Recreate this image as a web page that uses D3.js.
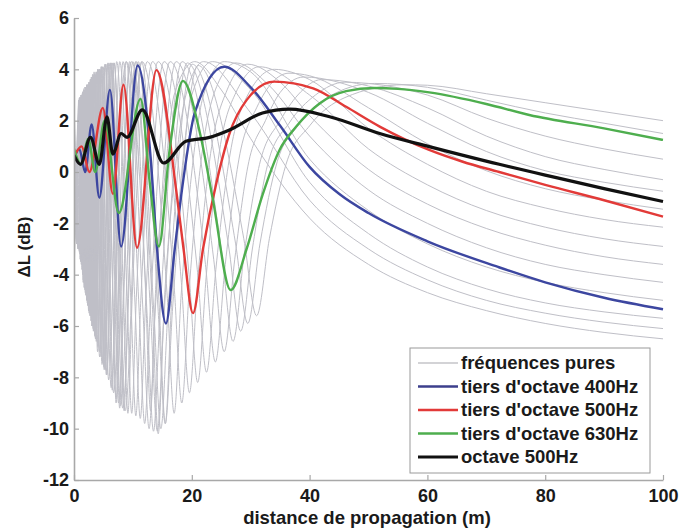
<!DOCTYPE html>
<html><head><meta charset="utf-8">
<script src="https://cdn.jsdelivr.net/npm/d3@7"></script>
<style>body{margin:0;background:#fff} svg{display:block}</style>
</head><body>
<svg id="chart" width="685" height="528"></svg>
<script>
// ---------- data ----------
const xTicks = [0, 20, 40, 60, 80, 100];
const yTicks = [-12, -10, -8, -6, -4, -2, 0, 2, 4, 6];
const xLabel = "distance de propagation (m)";
const yLabel = "ΔL (dB)";
const legendLabels = ["fréquences pures", "tiers d'octave 400Hz", "tiers d'octave 500Hz", "tiers d'octave 630Hz", "octave 500Hz"];

// pure-frequency curves [distance, ΔL]
const pureTones = [
 [[0,-1.0],[0.46,-2.8],[0.78,2.8],[1.04,-3.4],[1.3,3.0],[1.56,-4.3],[1.95,3.3],[2.34,-5.0],[2.86,3.6],[3.64,-6.5],[4.81,4.1],[5.98,-4.0],[6.5,-8.5],[7.02,-4.0],[8.84,4.3],[12.09,-4.3],[13.0,-9.3],[13.91,-4.3],[15.5,0.0],[17,3.0],[20.5,4.3],[25,3.2],[30,1.3],[40,-1.8],[50,-3.6],[60,-4.7],[70,-5.4],[80,-5.9],[90,-6.25],[100,-6.5]],
 [[0,2.5],[0.5,-2.8],[0.86,2.8],[1.14,-3.5],[1.43,3.0],[1.72,-4.5],[2.15,3.4],[2.57,-5.5],[3.15,3.8],[4.0,-7.0],[5.29,4.2],[6.58,-4.5],[7.15,-9.0],[7.72,-4.5],[9.72,4.3],[13.3,-5.2],[14.3,-10.2],[15.3,-5.2],[17,-0.3],[19,3.0],[22,4.3],[30,2.3],[40,-1.1],[50,-3.0],[60,-4.2],[70,-5.0],[80,-5.5],[90,-5.85],[100,-6.1]],
 [[0,-3.8],[0.93,2.9],[1.24,-3.6],[1.55,3.1],[1.86,-4.6],[2.33,3.4],[2.79,-5.6],[3.41,3.9],[4.34,-7.2],[5.74,4.25],[7.13,-4.7],[7.75,-9.2],[8.37,-4.7],[10.54,4.3],[14.42,-5.0],[15.5,-9.8],[16.58,-5.0],[18.3,0.0],[20,3.0],[23.5,4.3],[30,3.2],[40,-0.4],[50,-2.4],[60,-3.7],[70,-4.55],[80,-5.1],[90,-5.45],[100,-5.7]],
 [[0,1.5],[0.6,-2.8],[1.02,2.9],[1.36,-3.8],[1.7,3.1],[2.04,-4.8],[2.55,3.5],[3.06,-6.0],[3.74,3.9],[4.76,-7.5],[6.29,4.25],[7.82,-4.8],[8.5,-9.3],[9.18,-4.8],[11.56,4.3],[15.81,-4.8],[17.0,-9.4],[18.19,-4.8],[20,0.0],[22,3.0],[25.5,4.3],[30,3.9],[40,0.5],[50,-1.5],[60,-2.8],[70,-3.7],[80,-4.3],[90,-4.7],[100,-5.0]],
 [[0,-2.5],[1.1,2.9],[1.46,-4.0],[1.83,3.2],[2.2,-5.0],[2.75,3.6],[3.29,-6.2],[4.03,4.0],[5.12,-7.7],[6.77,4.25],[8.42,-4.9],[9.15,-9.4],[9.88,-4.9],[12.44,4.3],[17.02,-4.5],[18.3,-9.0],[19.58,-4.5],[21.5,0.3],[24,3.2],[27.5,4.25],[33,3.4],[40,1.4],[50,-0.7],[60,-2.0],[70,-2.95],[80,-3.6],[90,-4.0],[100,-4.3]],
 [[0,2.8],[0.69,-3.0],[1.18,3.0],[1.57,-4.2],[1.96,3.3],[2.35,-5.2],[2.94,3.7],[3.53,-6.4],[4.31,4.0],[5.49,-7.9],[7.25,4.3],[9.02,-4.9],[9.8,-9.4],[10.58,-4.9],[13.33,4.3],[18.23,-4.3],[19.6,-8.6],[20.97,-4.3],[23,0.4],[26,3.2],[29.5,4.2],[35,3.5],[40,2.2],[50,0.1],[60,-1.25],[70,-2.2],[80,-2.85],[90,-3.3],[100,-3.6]],
 [[0,0.0],[0.74,-3.0],[1.26,3.0],[1.68,-4.3],[2.1,3.3],[2.52,-5.4],[3.15,3.7],[3.78,-6.6],[4.62,4.1],[5.88,-8.1],[7.77,4.3],[9.66,-5.0],[10.5,-9.5],[11.34,-5.0],[14.28,4.3],[19.53,-4.0],[21.0,-8.2],[22.47,-4.0],[24.5,0.5],[27.5,3.1],[31.5,4.1],[40,3.0],[50,0.9],[60,-0.5],[70,-1.5],[80,-2.15],[90,-2.6],[100,-2.9]],
 [[0,-4.0],[1.35,3.0],[1.8,-4.5],[2.25,3.4],[2.7,-5.6],[3.38,3.8],[4.05,-6.8],[4.95,4.1],[6.3,-8.4],[8.33,4.3],[10.35,-5.1],[11.25,-9.6],[12.15,-5.1],[15.3,4.3],[20.93,-3.8],[22.5,-7.8],[24.08,-3.8],[26.5,0.7],[29.5,3.0],[34,4.0],[40,3.6],[50,1.7],[60,0.3],[70,-0.75],[80,-1.4],[90,-1.85],[100,-2.15]],
 [[0,2.0],[0.84,-3.0],[1.44,3.0],[1.92,-4.7],[2.4,3.4],[2.88,-5.8],[3.6,3.8],[4.32,-7.0],[5.28,4.2],[6.72,-8.6],[8.88,4.3],[11.04,-5.3],[12.0,-9.8],[12.96,-5.3],[16.32,4.3],[22.32,-3.6],[24.0,-7.4],[25.68,-3.6],[28,0.5],[31,2.5],[36.5,3.85],[40,3.75],[50,2.5],[60,1.1],[70,0.05],[80,-0.65],[90,-1.1],[100,-1.45]],
 [[0,-1.8],[1.53,3.1],[2.04,-4.8],[2.55,3.5],[3.06,-6.0],[3.83,3.9],[4.59,-7.2],[5.61,4.2],[7.14,-8.8],[9.44,4.3],[11.73,-5.5],[12.75,-10.0],[13.77,-5.5],[17.34,4.3],[23.72,-3.4],[25.5,-7.0],[27.29,-3.4],[29.5,0.2],[32.5,2.0],[35,3.1],[39,3.7],[50,3.1],[60,1.9],[70,0.8],[80,0.05],[90,-0.4],[100,-0.75]],
 [[0,2.9],[0.95,-3.1],[1.62,3.1],[2.16,-5.0],[2.7,3.5],[3.24,-6.1],[4.05,4.0],[4.86,-7.4],[5.94,4.25],[7.56,-9.0],[9.99,4.3],[12.42,-5.6],[13.5,-10.1],[14.58,-5.6],[18.36,4.3],[25.11,-3.2],[27.0,-6.6],[28.89,-3.2],[31.5,0.3],[35,2.0],[38,3.0],[42,3.6],[50,3.35],[60,2.5],[70,1.4],[80,0.6],[90,0.1],[100,-0.3]],
 [[0,-3.0],[1.7,3.2],[2.26,-5.1],[2.83,3.6],[3.4,-6.2],[4.25,4.0],[5.09,-7.6],[6.23,4.25],[7.92,-9.1],[10.47,4.3],[13.02,-5.6],[14.15,-10.1],[15.28,-5.6],[19.24,4.25],[26.32,-3.0],[28.3,-6.2],[30.28,-3.0],[33,0.4],[36.5,1.9],[41,3.0],[46,3.5],[50,3.45],[60,3.0],[70,2.1],[80,1.4],[90,0.9],[100,0.5]],
 [[0,1.0],[1.03,-3.2],[1.77,3.2],[2.36,-5.2],[2.95,3.6],[3.54,-6.3],[4.43,4.0],[5.31,-7.7],[6.49,4.25],[8.26,-9.2],[10.92,4.3],[13.57,-5.5],[14.75,-10.0],[15.93,-5.5],[20.06,4.2],[27.44,-2.8],[29.5,-5.9],[31.57,-2.8],[34.5,0.4],[38,1.8],[43,2.9],[51,3.45],[60,3.3],[70,2.8],[80,2.3],[90,1.9],[100,1.5]],
 [[0,-2.0],[1.86,3.3],[2.48,-5.4],[3.1,3.7],[3.72,-6.5],[4.65,4.1],[5.58,-7.9],[6.82,4.25],[8.68,-9.3],[11.47,4.3],[14.26,-5.3],[15.5,-9.8],[16.74,-5.3],[21.08,4.15],[28.83,-2.6],[31.0,-5.6],[33.17,-2.6],[36,0.3],[40,1.8],[46,2.9],[56,3.4],[60,3.38],[70,3.05],[80,2.7],[90,2.35],[100,2.0]]
];

const third400 = [[0,0.5],[0.9,0.9],[1.9,0.0],[3.0,1.85],[4.3,-1.0],[6.1,3.2],[8.0,-2.9],[10.8,4.15],[13.0,0.6],[14.1,-3.0],[15.6,-5.9],[17.1,-3.0],[18.5,-0.4],[20.5,2.3],[25.5,4.1],[30,3.3],[35,1.8],[40,0.2],[45,-0.85],[50,-1.6],[60,-2.7],[72,-3.7],[80,-4.3],[90,-4.9],[100,-5.35]];
const third500 = [[0,0.6],[1.3,1.0],[2.6,0.0],[4.9,2.5],[6.6,-0.85],[8.4,3.4],[10.7,-2.95],[14.0,3.97],[17.4,-0.8],[18.6,-3.0],[20.2,-5.5],[21.9,-3.0],[24.2,-0.4],[26.4,1.5],[29.3,2.8],[34.0,3.52],[40.6,3.26],[46.2,2.54],[51.9,1.77],[60.3,0.86],[66,0.4],[72.2,0.0],[80,-0.5],[90,-1.1],[100,-1.74]];
const third630 = [[0,0.9],[1.2,0.3],[2.4,1.3],[3.6,0.0],[5.2,2.0],[7.6,-1.6],[11.3,2.85],[12.9,-0.5],[14.4,-2.9],[16.2,0.8],[18.5,3.55],[21.4,1.5],[23.6,-1.1],[26.6,-4.6],[29.3,-3.0],[32,-0.9],[34.9,0.86],[37.7,1.76],[41.7,2.67],[46.2,3.15],[51,3.27],[55,3.24],[60.3,3.1],[70,2.65],[77.3,2.22],[90,1.7],[100,1.25]];
const octave500 = [[0,0.65],[1.1,0.3],[2.8,1.35],[4.3,0.3],[5.6,2.15],[6.6,0.7],[8.0,1.5],[9.0,1.35],[11.6,2.42],[15.2,0.35],[19.0,1.2],[23,1.35],[26.4,1.64],[32,2.3],[36.6,2.45],[43.4,2.15],[51.9,1.5],[60.3,0.99],[72.2,0.3],[80,-0.12],[90,-0.65],[100,-1.15]];

// ---------- drawing ----------
const FONT = "'Liberation Sans', Arial, Helvetica, sans-serif";
const svg = d3.select("#chart");
const x = d3.scaleLinear().domain([0, 100]).range([74, 663]);
const y = d3.scaleLinear().domain([-12, 6]).range([480, 18]);

svg.append("defs").append("clipPath").attr("id", "clip")
  .append("rect").attr("x", 74).attr("y", 10).attr("width", 590).attr("height", 471);

const line = d3.line().x(d => x(d[0])).y(d => y(d[1])).curve(d3.curveMonotoneX);
const plot = svg.append("g").attr("clip-path", "url(#clip)");

plot.selectAll("path.pure").data(pureTones).join("path")
  .attr("class", "pure").attr("d", line)
  .attr("fill", "none").attr("stroke", "#bfbfc7").attr("stroke-width", 1);

const series = [
  {data: third400, color: "#3c46a0", w: 2.4},
  {data: third500, color: "#e23a38", w: 2.4},
  {data: third630, color: "#4eae4e", w: 2.4},
  {data: octave500, color: "#111111", w: 3.2}
];
plot.selectAll("path.band").data(series).join("path")
  .attr("class", "band").attr("d", s => line(s.data))
  .attr("fill", "none").attr("stroke", s => s.color).attr("stroke-width", s => s.w);

// axes
const xAxis = d3.axisBottom(x).tickValues(xTicks).tickSize(-5).tickSizeOuter(0).tickPadding(9).tickFormat(d => String(d));
const yAxis = d3.axisLeft(y).tickValues(yTicks).tickSize(-5).tickSizeOuter(0).tickPadding(5).tickFormat(d => String(d));
const gx = svg.append("g").attr("transform", "translate(0,480)").call(xAxis);
const gy = svg.append("g").attr("transform", "translate(74,0)").call(yAxis);
[gx, gy].forEach(g => {
  g.select(".domain").attr("stroke", "#a8a8a8").attr("stroke-width", 1.6);
  g.selectAll(".tick line").attr("stroke", "#a8a8a8").attr("stroke-width", 1.2);
  g.selectAll(".tick text").attr("fill", "#1a1a1a").style("font-family", FONT)
    .style("font-size", "18px").style("font-weight", "bold");
});

svg.append("text").attr("x", 367).attr("y", 524).attr("text-anchor", "middle")
  .style("font-family", FONT).style("font-size", "18.5px").style("font-weight", "bold")
  .attr("fill", "#1a1a1a").text(xLabel);
svg.append("text").attr("transform", "translate(30,247) rotate(-90)").attr("text-anchor", "middle")
  .style("font-family", FONT).style("font-size", "17px").style("font-weight", "bold")
  .attr("fill", "#1a1a1a").text(yLabel);

// legend
const legColors = ["#c4c4c8", "#3c3f8c", "#e23a38", "#4eae4e", "#111111"];
const legWidths = [1.5, 2.4, 2.4, 2.4, 3.2];
const leg = svg.append("g");
leg.append("rect").attr("x", 410).attr("y", 348).attr("width", 240).attr("height", 125)
  .attr("fill", "#fff").attr("stroke", "#9a9a9a").attr("stroke-width", 1);
const rowY = d3.scalePoint().domain(d3.range(legendLabels.length)).range([363, 457]);
legendLabels.forEach((lab, i) => {
  leg.append("line").attr("x1", 418).attr("x2", 458).attr("y1", rowY(i)).attr("y2", rowY(i))
    .attr("stroke", legColors[i]).attr("stroke-width", legWidths[i]);
  leg.append("text").attr("x", 461).attr("y", rowY(i)).attr("dy", "0.35em")
    .style("font-family", FONT).style("font-size", "18.5px").style("font-weight", "bold")
    .attr("fill", "#1a1a1a").text(lab);
});
</script>
</body></html>
